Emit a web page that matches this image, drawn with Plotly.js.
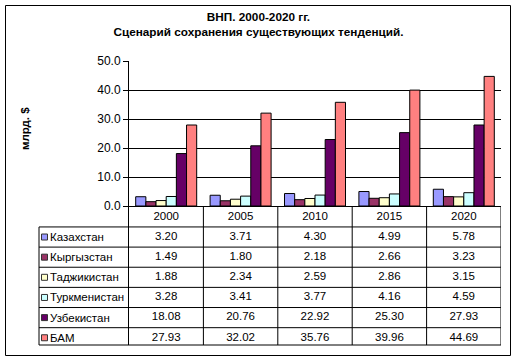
<!DOCTYPE html>
<html>
<head>
<meta charset="utf-8">
<script src="https://cdn.plot.ly/plotly-3.0.1.min.js"></script>
<style>
html,body{margin:0;padding:0;background:#fff;}
#chart{width:517px;height:362px;}
</style>
</head>
<body>
<div id="chart"></div>
<script>
var years = ['2000', '2005', '2010', '2015', '2020'];
var seriesNames = ['Казахстан', 'Кыргызстан', 'Таджикистан', 'Туркменистан', 'Узбекистан', 'БАМ'];
var kazakhstan   = [3.20, 3.71, 4.30, 4.99, 5.78];
var kyrgyzstan   = [1.49, 1.80, 2.18, 2.66, 3.23];
var tajikistan   = [1.88, 2.34, 2.59, 2.86, 3.15];
var turkmenistan = [3.28, 3.41, 3.77, 4.16, 4.59];
var uzbekistan   = [18.08, 20.76, 22.92, 25.30, 27.93];
var bam          = [27.93, 32.02, 35.76, 39.96, 44.69];
var seriesValues = [kazakhstan, kyrgyzstan, tajikistan, turkmenistan, uzbekistan, bam];
var seriesColors = ['#9999FF', '#993366', '#FFFFCC', '#CCFFFF', '#660066', '#FF8080'];
var chartTitle = 'ВНП. 2000-2020 гг.<br>Сценарий сохранения существующих тенденций.';
var yTitle = 'млрд. $';

var FONT = 'Liberation Sans, Arial, sans-serif';
var FS = 11.5;
var W = 517, H = 362, ML = 129, MR = 16, MT = 61, MB = 17;
var plotW = W - ML - MR, plotH = H - MT - MB;
var axisY = 206; // pixel of x-axis line
var splitFrac = (H - MB - axisY) / plotH;
function px2paperX(p){ return (p - ML) / plotW; }
function px2paperY(p){ return (H - MB - p) / plotH; }

var traces = [];
seriesNames.forEach(function(name, i){
  traces.push({
    type: 'bar', name: name, x: years, y: seriesValues[i],
    xaxis: 'x', yaxis: 'y',
    marker: {color: seriesColors[i], line: {color: '#000', width: 1}},
    hoverinfo: 'skip'
  });
});
traces.push({
  type: 'scatter', mode: 'text', x: years, y: years.map(function(){return 0;}),
  text: years, xaxis: 'x', yaxis: 'y2', cliponaxis: false,
  textfont: {family: FONT, size: FS, color: '#000'}, hoverinfo: 'skip'
});
seriesNames.forEach(function(name, i){
  traces.push({
    type: 'scatter', mode: 'text', x: years,
    y: years.map(function(){return i + 1;}),
    text: seriesValues[i].map(function(v){return v.toFixed(2);}),
    xaxis: 'x', yaxis: 'y2', cliponaxis: false,
    textfont: {family: FONT, size: FS, color: '#000'}, hoverinfo: 'skip'
  });
});

var shapes = [];
var labelLeft = px2paperX(39);
for (var r = 0; r < seriesNames.length; r++) {
  shapes.push({type: 'line', xref: 'paper', yref: 'y2', x0: labelLeft, x1: 1, y0: r + 0.5, y1: r + 0.5, line: {color: '#000', width: 1}});
}
shapes.push({type: 'line', xref: 'paper', yref: 'y2 domain', x0: labelLeft, x1: 1, y0: 0, y1: 0, line: {color: '#000', width: 1}});
shapes.push({type: 'line', xref: 'paper', yref: 'y2', x0: labelLeft, x1: labelLeft, y0: 0.5, y1: 6.36, line: {color: '#000', width: 1}});
for (var c = 0; c < years.length; c++) {
  shapes.push({type: 'line', xref: 'x', yref: 'y2 domain', x0: c + 0.5, x1: c + 0.5, y0: 0, y1: 1, line: {color: '#000', width: 1}});
}
var annotations = [];
seriesNames.forEach(function(name, i){
  shapes.push({type: 'rect', xref: 'paper', yref: 'y2', xsizemode: 'pixel', ysizemode: 'pixel',
    xanchor: px2paperX(44.5), yanchor: i + 1, x0: -3, x1: 3, y0: -3, y1: 3,
    fillcolor: seriesColors[i], line: {color: '#333', width: 1}});
  annotations.push({xref: 'paper', yref: 'y2', x: px2paperX(48), y: i + 1, xanchor: 'left', yanchor: 'middle',
    text: name, showarrow: false, font: {family: FONT, size: FS, color: '#000'}});
});
shapes.push({type: 'rect', xref: 'paper', yref: 'paper', x0: px2paperX(5.5), x1: px2paperX(510.5),
  y0: px2paperY(355.5), y1: px2paperY(5.5), line: {color: '#000', width: 1}, fillcolor: 'rgba(0,0,0,0)'});
annotations.push({xref: 'paper', yref: 'paper', x: px2paperX(25), y: px2paperY(129), textangle: -90,
  xanchor: 'center', yanchor: 'middle', text: yTitle, showarrow: false,
  font: {family: FONT, size: 11.5, color: '#000', weight: 'bold'}});

var layout = {
  width: W, height: H,
  margin: {l: ML, r: MR, t: MT, b: MB, pad: 0},
  paper_bgcolor: '#fff', plot_bgcolor: '#fff',
  showlegend: false,
  barmode: 'group', bargap: 0.18, bargroupgap: 0,
  font: {family: FONT, size: FS, color: '#000'},
  title: {text: chartTitle, font: {family: FONT, size: 11.75, color: '#000', weight: 'bold'},
    x: 0.5, xref: 'container', xanchor: 'center', y: 1 - 21/H, yref: 'container', yanchor: 'top'},
  xaxis: {type: 'category', range: [-0.5, 4.5], showticklabels: false, ticks: '', showgrid: false,
    showline: true, linecolor: '#000', linewidth: 1, anchor: 'y', fixedrange: true, zeroline: false},
  yaxis: {domain: [splitFrac, 1], range: [0, 50], dtick: 10, tickformat: '.1f', ticks: 'outside', ticklen: 5,
    tickcolor: '#000', showline: true, linecolor: '#000', linewidth: 1, showgrid: true, gridcolor: '#000',
    gridwidth: 1, zeroline: false, anchor: 'x', tickfont: {family: FONT, size: 12, color: '#000'}, fixedrange: true},
  yaxis2: {domain: [0, splitFrac], range: [6.36, -0.54], showticklabels: false, ticks: '', showgrid: false,
    zeroline: false, showline: true, linecolor: '#000', linewidth: 1, anchor: 'x', fixedrange: true},
  shapes: shapes,
  annotations: annotations
};

Plotly.newPlot('chart', traces, layout, {displayModeBar: false, staticPlot: true});
</script>
</body>
</html>
